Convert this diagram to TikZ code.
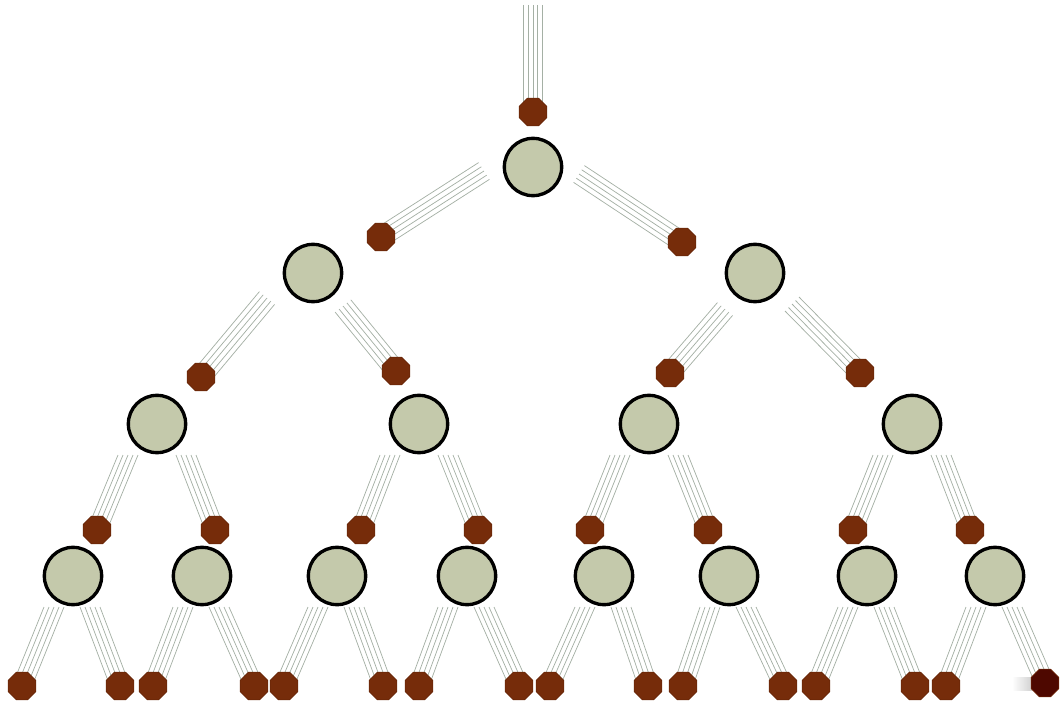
\documentclass[tikz,border=0pt]{standalone}
\usetikzlibrary{shapes.geometric,calc,backgrounds}
\definecolor{nodefill}{RGB}{196,201,171}
\definecolor{dotbrown}{RGB}{118,44,10}
\definecolor{dotdark}{RGB}{78,8,0}
\definecolor{wire}{RGB}{165,176,165}
\tikzset{
  treenode/.style={circle,draw=black,line width=2.5pt,fill=nodefill,minimum size=43pt,inner sep=0pt},
  leafdot/.style={regular polygon,regular polygon sides=8,fill=dotbrown,draw=dotbrown!85!black,line width=0.4pt,minimum size=22.5pt,inner sep=0pt},
  bline/.style={draw=wire,line width=0.55pt},
}
\newcommand\wirebundle[4]{\foreach \k in {-2,...,2}{\draw[bline] ([shift={(\k*#3,\k*#4)}]#1) -- ([shift={(\k*#3,\k*#4)}]#2.center);}}
\begin{document}
\begin{tikzpicture}[x=0.75pt,y=-0.75pt]
\useasboundingbox (0,0) rectangle (1064,702);
% level 0
\coordinate (t0s) at (533,5);
\node[leafdot] (t0) at (533,112) {};
\node[treenode] (r) at (533,167) {};
% level 1
\coordinate (p1s) at (484,171);
\coordinate (p2s) at (579,174);
\node[leafdot] (p1) at (381,237) {};
\node[leafdot] (p2) at (682,242) {};
\node[treenode] (a) at (313,273) {};
\node[treenode] (b) at (755,273) {};
% level 2
\coordinate (q1s) at (267,298);
\coordinate (q2s) at (343,306);
\coordinate (q3s) at (725,309);
\coordinate (q4s) at (792,304);
\node[leafdot] (q1) at (201,377) {};
\node[leafdot] (q2) at (396,371) {};
\node[leafdot] (q3) at (670,373) {};
\node[leafdot] (q4) at (860,373) {};
\foreach \n/\x in {1/157,2/419,3/649,4/912}{\node[treenode] (c\n) at (\x,424) {};}
% level 3
\foreach \n/\x in {1/97,2/215,3/361,4/478,5/590,6/708,7/853,8/970}{\node[leafdot] (s\n) at (\x,530) {};}
\foreach \n/\x in {1/73,2/202,3/337,4/467,5/604,6/729,7/867,8/995}{\node[treenode] (d\n) at (\x,576) {};}
\foreach \i/\x/\l/\r in {1/157/1/2,2/419/3/4,3/649/5/6,4/912/7/8}{
  \coordinate (s\l s) at (\x-29,455);
  \coordinate (s\r s) at (\x+29,455);
}
% level 4
\foreach \n/\x in {1/22,2/120,3/153,4/254,5/284,6/383,7/419,8/519,9/550,10/648,11/683,12/783,13/816,14/915,15/946}{\node[leafdot] (u\n) at (\x,686) {};}
\fill[left color=white,right color=gray!40] (1012,677) rectangle (1034,690);
\node[leafdot,fill=dotdark,draw=dotbrown] (u16) at (1045,683) {};
\foreach \i/\x/\l/\r in {1/73/1/2,2/202/3/4,3/337/5/6,4/467/7/8,5/604/9/10,6/729/11/12,7/867/13/14,8/995/15/16}{
  \coordinate (u\l s) at (\x-19,607);
  \coordinate (u\r s) at (\x+17,607);
}
% wire bundles
\begin{pgfonlayer}{background}
\wirebundle{t0s}{t0}{4.8}{0}
\wirebundle{p1s}{p1}{2.7}{4.2}
\wirebundle{p2s}{p2}{-2.7}{4.2}
\wirebundle{q1s}{q1}{3.8}{3.2}
\wirebundle{q2s}{q2}{-3.9}{3.1}
\wirebundle{q3s}{q3}{3.8}{3.2}
\wirebundle{q4s}{q4}{-3.5}{3.5}
\foreach \n in {1,...,8}{\wirebundle{s\n s}{s\n}{5}{0}}
\foreach \n in {1,...,16}{\wirebundle{u\n s}{u\n}{5}{0}}
\end{pgfonlayer}
\end{tikzpicture}
\end{document}
